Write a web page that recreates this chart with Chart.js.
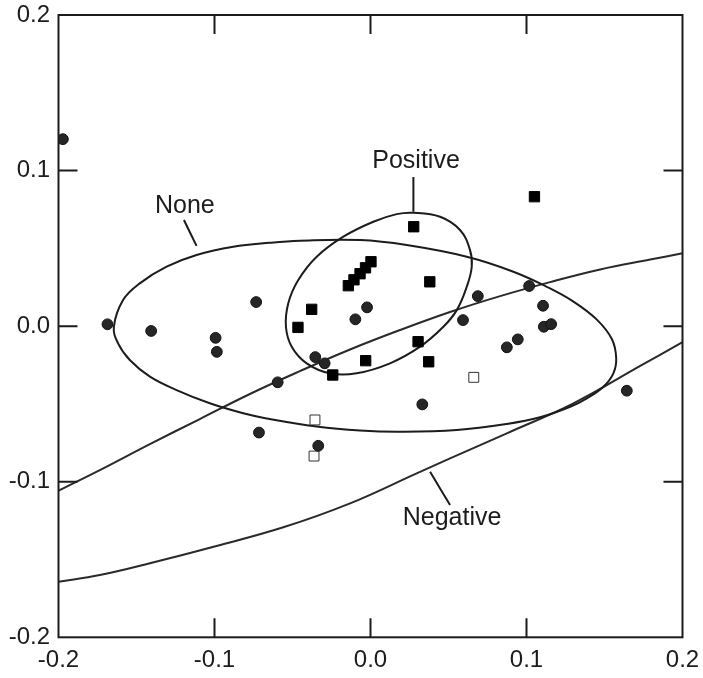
<!DOCTYPE html>
<html lang="en">
<head>
<meta charset="UTF-8">
<title>Scatter with confidence ellipses</title>
<script src="https://cdn.jsdelivr.net/npm/chart.js"></script>
<style>
  html, body { margin: 0; padding: 0; background: #fff; }
  #wrap { width: 703px; height: 678px; position: relative; }
</style>
</head>
<body>
<div id="wrap"><canvas id="chartCanvas"></canvas></div>
<script>
// tick values, same on both axes
const tickValues = [-0.2, -0.1, 0.0, 0.1, 0.2];

// filled circles
const circleX = [-0.1972, -0.1686, -0.1406, -0.0993, -0.0985, -0.0733, -0.0595, -0.0715, -0.0354, -0.0294, -0.0335, -0.0097,
                 -0.0022, 0.0332, 0.0593, 0.0688, 0.1017, 0.1106, 0.1111, 0.1158, 0.0944, 0.0874, 0.1643];
const circleY = [0.1202, 0.0012, -0.0031, -0.0075, -0.0165, 0.0155, -0.0361, -0.0684, -0.0199, -0.0239, -0.0769, 0.0044,
                 0.0121, -0.0503, 0.0039, 0.0193, 0.0258, 0.0131, -0.0004, 0.0013, -0.0085, -0.0136, -0.0415];

// filled squares
const squareX = [0.0277, 0.0380, -0.0377, -0.0465, -0.0142, -0.0106, -0.0067, -0.0032, 0.0003, -0.0031, -0.0242, 0.0305, 0.0373, 0.1051];
const squareY = [0.0639, 0.0285, 0.0108, -0.0008, 0.0260, 0.0298, 0.0337, 0.0375, 0.0414, -0.0222, -0.0314, -0.0100, -0.0229, 0.0832];

// open squares
const openX = [-0.0356, -0.0362, 0.0662];
const openY = [-0.0603, -0.0835, -0.0329];

// "None" ellipse
const noneX = [-0.1645, -0.1586, -0.1479, -0.1307, -0.1115, -0.0880, -0.0645, -0.0452, -0.0067, 0.0232, 0.0617, 0.0916,
               0.1130, 0.1301, 0.1451, 0.1547, 0.1575, 0.1557, 0.1493, 0.1387, 0.1280, 0.1087, 0.0874, 0.0553,
               0.0189, -0.0067, -0.0345, -0.0666, -0.0816, -0.1030, -0.1243, -0.1414, -0.1543, -0.1618];
const noneY = [-0.0004, 0.0168, 0.0275, 0.0382, 0.0457, 0.0510, 0.0536, 0.0549, 0.0553, 0.0521, 0.0446, 0.0350,
               0.0253, 0.0158, 0.0042, -0.0083, -0.0205, -0.0303, -0.0389, -0.0464, -0.0518, -0.0586, -0.0629, -0.0668,
               -0.0679, -0.0671, -0.0645, -0.0593, -0.0560, -0.0496, -0.0411, -0.0325, -0.0218, -0.0111];

// "Positive" ellipse
const posX = [0.0168, 0.0275, 0.0446, 0.0574, 0.0638, 0.0649, 0.0617, 0.0553, 0.0467, 0.0318, 0.0125, -0.0089,
              -0.0260, -0.0409, -0.0505, -0.0542, -0.0527, -0.0463, -0.0345, -0.0174, 0.0018];
const posY = [0.0720, 0.0729, 0.0703, 0.0618, 0.0489, 0.0382, 0.0253, 0.0103, -0.0004, -0.0132, -0.0239, -0.0303,
              -0.0303, -0.0239, -0.0132, -0.0004, 0.0147, 0.0296, 0.0446, 0.0575, 0.0671];

// "Negative" ellipse, only its two arcs fall inside the plot
const negUpperX = [-0.2000, -0.1735, -0.1414, -0.1094, -0.0773, -0.0452, -0.0131, 0.0189, 0.0510, 0.0831, 0.1151, 0.1472, 0.1793, 0.2000];
const negUpperY = [-0.1057, -0.0925, -0.0758, -0.0597, -0.0436, -0.0289, -0.0150, -0.0025, 0.0091, 0.0193, 0.0283, 0.0364, 0.0428, 0.0468];
const negLowerX = [-0.2000, -0.1735, -0.1414, -0.0987, -0.0559, -0.0131, 0.0296, 0.0510, 0.0874, 0.1301, 0.1729, 0.2000];
const negLowerY = [-0.1643, -0.1600, -0.1524, -0.1413, -0.1293, -0.1139, -0.0946, -0.0850, -0.0689, -0.0496, -0.0256, -0.0102];

// group labels and their leader lines
const labelText = ['None', 'Positive', 'Negative'];
const labelX = [-0.1190, 0.0292, 0.0523];
const labelY = [0.0772, 0.1061, -0.1233];
const noneLeadX = [-0.1196, -0.1115];
const noneLeadY = [0.0682, 0.0516];
const posLeadX = [0.0275, 0.0275];
const posLeadY = [0.0958, 0.0735];
const negLeadX = [0.0382, 0.0510];
const negLeadY = [-0.0936, -0.1150];

const ink = '#1c1c1c';
const fontFamily = "'Liberation Sans', Arial, sans-serif";

function pts(xs, ys) {
    return xs.map((x, i) => ({ x: x, y: ys[i] }));
}

function curve(xs, ys, closed, color) {
    return {
        data: pts(xs, ys),
        showLine: true,
        borderColor: color || ink,
        borderWidth: 2,
        pointRadius: 0,
        tension: 0.4,
        fill: false,
        closed: closed
    };
}

// let the ellipses close smoothly, like the radar chart does
const closeLoops = {
    id: 'closeLoops',
    afterDatasetsUpdate(chart) {
        chart.data.datasets.forEach((ds, i) => {
            if (ds.closed) {
                const line = chart.getDatasetMeta(i).dataset;
                line._loop = true;
                line._fullLoop = true;
            }
        });
    }
};

// box, inward ticks and the group labels
const framePlugin = {
    id: 'frame',
    afterDraw(chart) {
        const { ctx, chartArea: a, scales } = chart;
        const tickLen = 19;
        ctx.save();
        ctx.strokeStyle = ink;
        ctx.lineWidth = 2;
        ctx.strokeRect(a.left, a.top, a.right - a.left, a.bottom - a.top);
        ctx.beginPath();
        tickValues.slice(1, -1).forEach(v => {
            const px = scales.x.getPixelForValue(v);
            ctx.moveTo(px, a.bottom); ctx.lineTo(px, a.bottom - tickLen);
            ctx.moveTo(px, a.top); ctx.lineTo(px, a.top + tickLen);
            const py = scales.y.getPixelForValue(v);
            ctx.moveTo(a.left, py); ctx.lineTo(a.left + tickLen, py);
            ctx.moveTo(a.right, py); ctx.lineTo(a.right - tickLen, py);
        });
        ctx.stroke();

        ctx.fillStyle = ink;
        ctx.font = '25px ' + fontFamily;
        ctx.textAlign = 'center';
        ctx.textBaseline = 'middle';
        labelText.forEach((t, i) => {
            ctx.fillText(t, scales.x.getPixelForValue(labelX[i]), scales.y.getPixelForValue(labelY[i]));
        });
        ctx.restore();
    }
};

const pointSets = [
    {
        data: pts(circleX, circleY), showLine: false,
        pointStyle: 'circle', pointRadius: 5.4, pointBorderWidth: 1,
        pointBackgroundColor: '#262626', pointBorderColor: '#111'
    },
    {
        data: pts(squareX, squareY), showLine: false,
        pointStyle: 'rect', pointRadius: 7.3, pointBorderWidth: 1,
        pointBackgroundColor: '#000', pointBorderColor: '#000'
    },
    {
        data: pts(openX, openY), showLine: false,
        pointStyle: 'rect', pointRadius: 7, pointBorderWidth: 1,
        pointBackgroundColor: '#fff', pointBorderColor: '#333'
    }
];

const lineSets = [
    curve(noneX, noneY, true),
    curve(posX, posY, true),
    curve(negUpperX, negUpperY, false, '#2a2a2a'),
    curve(negLowerX, negLowerY, false, '#2a2a2a'),
    curve(noneLeadX, noneLeadY, false),
    curve(posLeadX, posLeadY, false),
    curve(negLeadX, negLeadY, false)
];

// tick marks are hidden, their length only serves as the gap to the labels
function axis(position, gap, fit) {
    return {
        type: 'linear',
        position: position,
        min: -0.2,
        max: 0.2,
        grid: { display: false, drawTicks: true, tickLength: gap },
        border: { display: false },
        afterBuildTicks: s => { s.ticks = tickValues.map(v => ({ value: v })); },
        afterFit: fit,
        ticks: {
            autoSkip: false,
            maxRotation: 0,
            padding: 0,
            color: ink,
            font: { family: fontFamily, size: 24 },
            callback: v => Number(v).toFixed(1)
        }
    };
}

new Chart(document.getElementById('chartCanvas'), {
    type: 'line',
    data: { datasets: pointSets.concat(lineSets) },
    options: {
        responsive: true,
        maintainAspectRatio: false,
        animation: false,
        events: [],
        layout: { padding: { top: 15, right: 20.5, bottom: 0, left: 0 } },
        plugins: { legend: { display: false }, tooltip: { enabled: false } },
        scales: {
            x: axis('bottom', 9, s => { s.height = 40.7; }),
            y: axis('left', 8.5, s => { s.width = 58.5; })
        }
    },
    plugins: [closeLoops, framePlugin]
});
</script>
</body>
</html>
